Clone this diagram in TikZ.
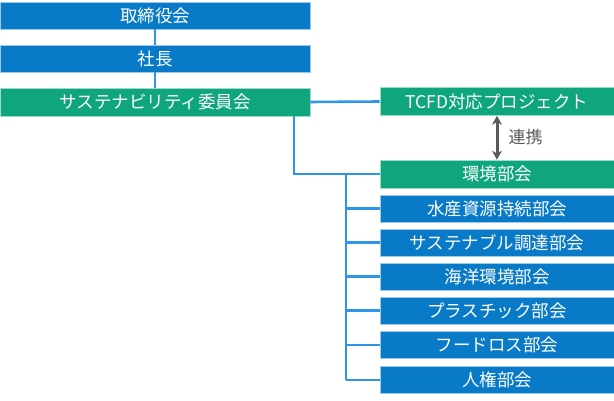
\documentclass[tikz,border=0pt]{standalone}
\usepackage{fontspec}
\setmainfont{Noto Sans CJK JP}
\usetikzlibrary{arrows.meta}
\definecolor{boxblue}{RGB}{8,122,200}
\definecolor{boxgreen}{RGB}{16,166,125}
\definecolor{linkblue}{RGB}{46,150,230}
\definecolor{arrowgray}{RGB}{90,90,90}
\tikzset{
  orgbox/.style={rectangle, inner sep=0pt, text=white, font=\fontsize{17.5}{19}\selectfont, draw=white!60!#1, line width=0.6pt, fill=#1},
  leftbox/.style={orgbox=#1, minimum width=310pt, minimum height=27pt},
  rightbox/.style={orgbox=#1, minimum width=234pt, minimum height=27pt},
  link/.style={draw=linkblue, line width=2.6pt},
  rel/.style={draw=arrowgray, line width=3pt, {Stealth[length=9pt,width=10pt]}-{Stealth[length=9pt,width=10pt]}}
}
\begin{document}
\begin{tikzpicture}[x=1pt,y=-1pt]
\useasboundingbox (0,0) rectangle (614,401);
\coordinate (j1) at (294,174);
\coordinate (j2) at (346,174);
\coordinate (jend) at (346,380);
% left column
\node[leftbox=boxblue] (board) at (155,15.5) {取締役会};
\node[leftbox=boxblue] (pres) at (155,58.5) {社長};
\node[leftbox=boxgreen, minimum height=28pt] (sus) at (155,102) {サステナビリティ委員会};
% right column
\node[rightbox=boxgreen, minimum height=28pt] (tcfd) at (497,101.5) {TCFD対応プロジェクト};
\node[rightbox=boxgreen, minimum height=28pt] (env) at (497,174) {環境部会};
\node[rightbox=boxblue] (s1) at (497,208.5) {水産資源持続部会};
\node[rightbox=boxblue] (s2) at (497,242.5) {サステナブル調達部会};
\node[rightbox=boxblue] (s3) at (497,276.5) {海洋環境部会};
\node[rightbox=boxblue] (s4) at (497,310.5) {プラスチック部会};
\node[rightbox=boxblue] (s5) at (497,345) {フードロス部会};
\node[rightbox=boxblue] (s6) at (497,380) {人権部会};
% links
\draw[link] (board.south) -- (pres.north);
\draw[link] (pres.south) -- (sus.north);
\draw[link] (sus.east) -- (tcfd.west);
\draw[link] (sus.south -| j1) -- (j1) -- (env.west);
\draw[link] (j2) -- (jend);
\foreach \n in {s1,s2,s3,s4,s5,s6}{
  \draw[link] (\n.west -| j2) -- (\n.west);
}
\draw[rel] (tcfd.south) -- (env.north);
\node[text=arrowgray, font=\fontsize{17}{19}\selectfont, anchor=west] (lbl) at (505,137.5) {連携};
\end{tikzpicture}
\end{document}
